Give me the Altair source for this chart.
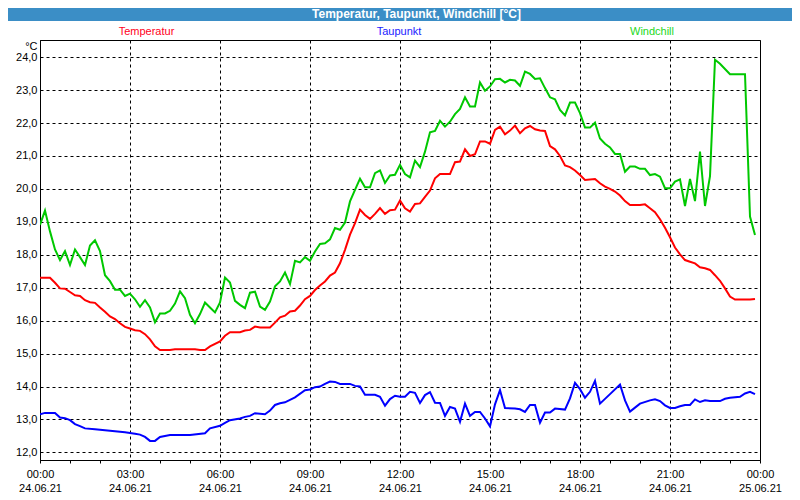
import altair as alt
import pandas as pd

# ---- data, times on 24.06.21 ----
temp_times = ["00:00","00:20","00:30","00:40","00:50","01:00","01:10","01:20","01:30","01:40",
              "01:50","02:00","02:10","02:20","02:30","02:40","02:50","03:00","03:10","03:20",
              "03:30","03:40","03:50","04:00","04:20","04:30","05:10","05:20","05:30","05:40",
              "06:00","06:10","06:20","06:40","06:50","07:00","07:10","07:20","07:40","07:50",
              "08:00","08:10","08:20","08:30","08:40","08:50","09:00","09:10","09:20","09:30",
              "09:40","09:50","10:00","10:10","10:20","10:30","10:40","10:50","11:00","11:10",
              "11:20","11:30","11:40","11:50","12:00","12:10","12:20","12:30","12:40","12:50",
              "13:00","13:10","13:20","13:40","13:50","14:00","14:10","14:20","14:30","14:40",
              "14:50","15:00","15:10","15:20","15:30","15:40","15:50","16:00","16:10","16:20",
              "16:30","16:40","16:50","17:00","17:10","17:20","17:30","17:40","17:50","18:00",
              "18:10","18:30","18:40","18:50","19:00","19:10","19:20","19:30","19:40","20:00",
              "20:10","20:20","20:30","20:40","20:50","21:00","21:10","21:20","21:30","21:40",
              "21:50","22:00","22:10","22:20","22:30","22:40","22:50","23:00","23:10","23:40",
              "23:50"]
temp_values = [17.30,17.30,17.15,16.98,16.97,16.87,16.77,16.75,16.62,16.56,
               16.54,16.40,16.27,16.13,16.05,15.92,15.81,15.76,15.71,15.69,
               15.59,15.43,15.22,15.11,15.11,15.13,15.13,15.11,15.11,15.22,
               15.37,15.54,15.65,15.65,15.70,15.72,15.82,15.79,15.79,15.94,
               16.10,16.15,16.28,16.30,16.46,16.65,16.75,16.93,17.07,17.19,
               17.37,17.46,17.74,18.15,18.61,18.96,19.37,19.21,19.09,19.24,
               19.42,19.24,19.35,19.37,19.65,19.41,19.31,19.54,19.56,19.76,
               19.95,20.32,20.45,20.45,20.81,20.83,21.20,21.00,21.05,21.44,
               21.44,21.37,21.79,21.89,21.66,21.77,21.92,21.69,21.84,21.91,
               21.81,21.77,21.76,21.30,21.20,21.00,20.71,20.66,20.56,20.42,
               20.27,20.30,20.17,20.07,20.00,19.92,19.80,19.63,19.51,19.51,
               19.53,19.41,19.29,19.08,18.82,18.53,18.22,18.01,17.84,17.79,
               17.74,17.62,17.59,17.54,17.38,17.21,16.98,16.73,16.64,16.64,
               16.66]

dew_times = ["00:00","00:10","00:30","00:40","00:50","01:00","01:10","01:20","01:30","01:50",
             "02:10","02:30","02:50","03:10","03:20","03:30","03:40","03:50","04:00","04:20",
             "05:00","05:30","05:40","06:00","06:10","06:20","06:40","06:50","07:00","07:10",
             "07:30","07:40","07:50","08:00","08:10","08:30","08:50","09:00","09:10","09:20",
             "09:30","09:40","09:50","10:00","10:20","10:30","10:40","10:50","11:10","11:20",
             "11:30","11:40","11:50","12:00","12:10","12:20","12:30","12:40","12:50","13:00",
             "13:10","13:20","13:30","13:40","13:50","14:00","14:10","14:20","14:30","14:40",
             "14:50","15:00","15:10","15:20","15:30","15:50","16:00","16:10","16:20","16:30",
             "16:40","16:50","17:00","17:10","17:30","17:40","17:50","18:00","18:10","18:20",
             "18:30","18:40","19:00","19:20","19:30","19:40","19:50","20:00","20:20","20:30",
             "20:40","20:50","21:00","21:10","21:20","21:30","21:40","21:50","22:00","22:10",
             "22:20","22:40","22:50","23:00","23:20","23:30","23:40","23:50"]
dew_values = [13.16,13.20,13.20,13.06,13.04,12.98,12.86,12.80,12.73,12.70,
              12.67,12.64,12.61,12.57,12.54,12.47,12.35,12.35,12.47,12.53,
              12.53,12.58,12.73,12.81,12.90,12.98,13.03,13.08,13.11,13.19,
              13.16,13.27,13.44,13.49,13.52,13.67,13.89,13.91,13.98,14.00,
              14.08,14.15,14.14,14.08,14.08,14.02,14.00,13.75,13.75,13.69,
              13.42,13.62,13.72,13.69,13.69,13.84,13.81,13.50,13.74,13.83,
              13.51,13.50,13.11,13.38,13.33,12.93,13.48,13.11,13.23,13.23,
              13.03,12.79,13.46,13.89,13.35,13.33,13.31,13.23,13.44,13.44,
              12.90,13.21,13.21,13.33,13.30,13.64,14.11,13.92,13.66,13.84,
              14.17,13.48,13.77,14.06,13.58,13.24,13.36,13.48,13.58,13.61,
              13.56,13.43,13.35,13.35,13.40,13.44,13.44,13.61,13.53,13.58,
              13.56,13.56,13.63,13.66,13.69,13.79,13.84,13.77]

wind_times = ["00:00","00:10","00:20","00:30","00:40","00:50","01:00","01:10","01:20","01:30",
              "01:40","01:50","02:00","02:10","02:20","02:30","02:40","02:50","03:00","03:10",
              "03:20","03:30","03:40","03:50","04:00","04:10","04:20","04:30","04:40","04:50",
              "05:00","05:10","05:20","05:30","05:40","05:50","06:00","06:10","06:20","06:30",
              "06:40","06:50","07:00","07:10","07:20","07:30","07:40","07:50","08:00","08:10",
              "08:20","08:30","08:40","08:50","09:00","09:10","09:20","09:30","09:40","09:50",
              "10:00","10:10","10:20","10:30","10:40","10:50","11:00","11:10","11:20","11:30",
              "11:40","11:50","12:00","12:10","12:20","12:30","12:40","12:50","13:00","13:10",
              "13:20","13:30","13:40","13:50","14:00","14:10","14:20","14:30","14:40","14:50",
              "15:00","15:10","15:20","15:30","15:40","15:50","16:00","16:10","16:20","16:30",
              "16:40","16:50","17:00","17:10","17:20","17:30","17:40","17:50","18:00","18:10",
              "18:20","18:30","18:40","18:50","19:00","19:10","19:20","19:30","19:40","19:50",
              "20:00","20:10","20:20","20:30","20:40","20:50","21:00","21:10","21:20","21:30",
              "21:40","21:50","22:00","22:10","22:20","22:30","22:40","22:50","23:00","23:30",
              "23:40","23:50"]
wind_values = [18.91,19.34,18.71,18.16,17.84,18.11,17.69,18.16,17.93,17.69,
               18.28,18.44,18.11,17.38,17.20,16.94,16.94,16.75,16.82,16.65,
               16.42,16.62,16.40,15.95,16.22,16.22,16.30,16.52,16.89,16.68,
               16.18,15.92,16.20,16.55,16.40,16.25,16.55,17.31,17.16,16.60,
               16.48,16.38,16.85,16.88,16.43,16.33,16.58,17.04,17.19,17.46,
               17.11,17.82,17.77,17.93,17.82,18.10,18.33,18.35,18.47,18.81,
               18.76,18.98,19.62,19.97,20.31,20.05,20.05,20.48,20.56,20.18,
               20.41,20.43,20.73,20.45,20.35,20.86,20.66,21.13,21.72,21.76,
               22.07,21.89,22.04,22.27,22.43,22.78,22.50,22.50,23.23,22.98,
               23.11,23.33,23.34,23.23,23.31,23.29,23.13,23.56,23.49,23.34,
               23.36,23.06,22.78,22.72,22.40,22.23,22.62,22.62,22.30,21.86,
               21.86,22.01,21.53,21.37,21.26,21.06,21.06,20.52,20.68,20.68,
               20.61,20.61,20.42,20.45,20.37,20.02,20.02,20.22,20.29,19.48,
               20.30,19.63,21.13,19.48,20.39,23.92,23.80,23.64,23.48,23.48,
               19.16,18.60]

series_names = ["Temperatur", "Taupunkt", "Windchill"]
series_colors = ["#ff0000", "#0000ff", "#00c800"]
label_colors = ["#ff0022", "#1a1aff", "#22d822"]
title_text = "Temperatur, Taupunkt, Windchill [°C]"
y_ticks = list(range(12, 25))
x_ticks = list(range(0, 25))


def to_hours(t):
    h, m = t.split(":")
    return int(h) + int(m) / 60.0


frames = []
for name, times, vals in [("Temperatur", temp_times, temp_values),
                          ("Taupunkt", dew_times, dew_values),
                          ("Windchill", wind_times, wind_values)]:
    frames.append(pd.DataFrame({"stunde": [to_hours(t) for t in times],
                                "wert": vals, "reihe": name}))
df = pd.concat(frames, ignore_index=True)

FONT = "Liberation Sans"

x_axis = alt.Axis(
    values=x_ticks,
    labelExpr=("datum.value % 3 == 0 ? [(datum.value < 10 || datum.value == 24 ? '0' : '') + "
               "(datum.value % 24) + ':00', datum.value == 24 ? '25.06.21' : '24.06.21'] : ''"),
    grid=True, gridColor="black", gridDash=[3, 3], gridWidth=1,
    gridOpacity={"condition": {"test": "datum.value % 3 == 0", "value": 1}, "value": 0},
    ticks=True, tickSize=3, tickColor="black", tickWidth=1,
    domain=True, domainColor="black",
    labelFont=FONT, labelFontSize=11, labelColor="black", labelPadding=5,
    labelLineHeight=14, labelOverlap=False, labelFlush=False, labelBound=False,
    title=None,
)

y_axis = alt.Axis(
    values=y_ticks,
    labelExpr="replace(format(datum.value, '.1f'), '.', ',')",
    grid=True, gridColor="black", gridDash=[3, 3], gridWidth=1,
    ticks=False, domain=True, domainColor="black",
    labelFont=FONT, labelFontSize=11, labelColor="black", labelPadding=3,
    labelBaseline="middle",
    title="°C", titleAngle=0, titleAlign="right", titleBaseline="middle",
    titleX=-3, titleY=6, titleFont=FONT, titleFontSize=11, titleFontWeight="normal",
    titleColor="black",
)

lines = alt.Chart(df).mark_line(strokeWidth=2, interpolate="linear", clip=True).encode(
    x=alt.X("stunde:Q", scale=alt.Scale(domain=[0, 24], nice=False, zero=False), axis=x_axis),
    y=alt.Y("wert:Q", scale=alt.Scale(domain=[11.77, 24.52], nice=False, zero=False), axis=y_axis),
    color=alt.Color("reihe:N", scale=alt.Scale(domain=series_names, range=series_colors), legend=None),
    detail="reihe:N",
)

one = alt.Data(values=[{"k": 1}])

title_bar = alt.Chart(one).mark_rect(color="#3b8ec6").encode(
    x=alt.value(-40), x2=alt.value(760), y=alt.value(-40), y2=alt.value(-19)
)
title_label = alt.Chart(one).mark_text(
    font=FONT, fontSize=12, fontWeight="bold", color="white", align="center", baseline="middle"
).encode(x=alt.value(376.5), y=alt.value(-26), text=alt.value(title_text))

label_x = [106.5, 359, 612]
series_labels = []
for name, col, px in zip(series_names, label_colors, label_x):
    series_labels.append(
        alt.Chart(one).mark_text(font=FONT, fontSize=11, color=col, align="center",
                                 baseline="middle").encode(
            x=alt.value(px), y=alt.value(-8), text=alt.value(name))
    )

chart = alt.layer(lines, title_bar, title_label, *series_labels).properties(
    width=720, height=420,
    autosize=alt.AutoSizeParams(type="none"),
    padding={"left": 32, "top": 32, "right": 32, "bottom": 34},
    background="white",
).configure_view(stroke="black", strokeWidth=1, fill="white")

chart.save("out.html", embed_options={"renderer": "svg", "actions": False})
